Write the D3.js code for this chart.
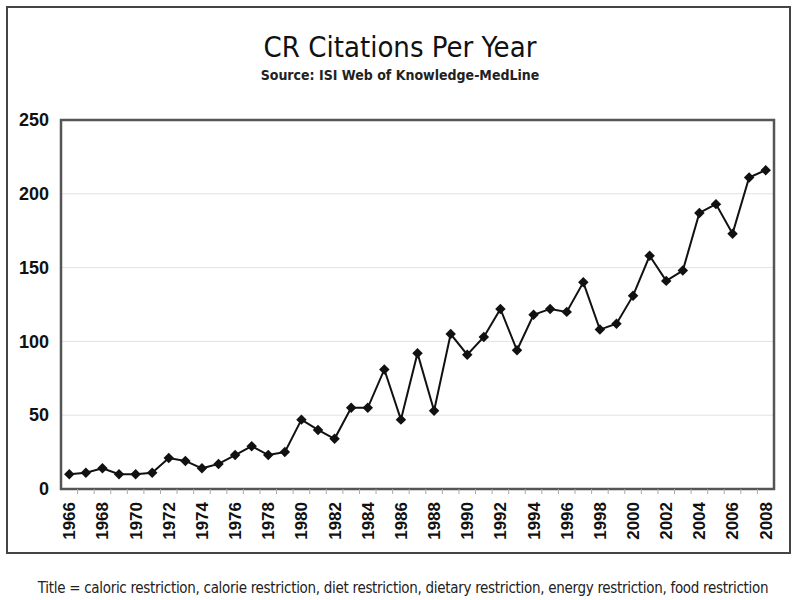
<!DOCTYPE html>
<html><head><meta charset="utf-8">
<script src="https://cdn.jsdelivr.net/npm/d3@7"></script>
<style>body{margin:0;background:#fff}svg{display:block}</style>
</head><body>
<svg id="c" width="800" height="600"></svg>
<script>
const years = d3.range(1966, 2009);
const citations = [10,11,14,10,10,11,21,19,14,17,23,29,23,25,47,40,34,55,55,81,47,92,53,105,91,103,122,94,118,122,120,140,108,112,131,158,141,148,187,193,173,211,216];
const yTicks = [0,50,100,150,200,250];
const titleText = "CR Citations Per Year";
const subtitleText = "Source: ISI Web of Knowledge-MedLine";
const footerText = "Title = caloric restriction, calorie restriction, diet restriction, dietary restriction, energy restriction, food restriction";

const svg = d3.select("#c");
const L = 61, R = 774, T = 120, B = 489;

svg.append("rect").attr("x",7).attr("y",7).attr("width",783).attr("height",546)
  .attr("fill","#fff").attr("stroke","#444").attr("stroke-width",2);

svg.append("text").attr("x",400).attr("y",57).attr("text-anchor","middle")
  .attr("font-family","'DejaVu Sans Condensed','Liberation Sans Narrow',sans-serif")
  .attr("font-size",29).attr("fill","#111").text(titleText);
svg.append("text").attr("x",400).attr("y",80).attr("text-anchor","middle")
  .attr("font-family","'DejaVu Sans Condensed','Liberation Sans Narrow',sans-serif")
  .attr("font-size",14).attr("font-weight",600).attr("fill","#222").text(subtitleText);
svg.append("text").attr("x",403).attr("y",593).attr("text-anchor","middle")
  .attr("font-family","'Liberation Sans Narrow','DejaVu Sans Condensed',sans-serif")
  .attr("font-size",15).attr("fill","#222").attr("letter-spacing","-0.3").text(footerText);

const x = d3.scaleBand().domain(years).range([L,R]);
const y = d3.scaleLinear().domain([0,250]).range([B,T]);

// gridlines
svg.append("g").selectAll("line").data(yTicks.filter(v=>v>0&&v<250)).join("line")
  .attr("x1",L).attr("x2",R).attr("y1",d=>y(d)).attr("y2",d=>y(d))
  .attr("stroke","#e2e2e2").attr("stroke-width",1);

// plot frame
svg.append("rect").attr("x",L).attr("y",T).attr("width",R-L).attr("height",B-T)
  .attr("fill","none").attr("stroke","#555").attr("stroke-width",2.5);

// y axis
const ya = svg.append("g").attr("transform",`translate(${L},0)`)
  .call(d3.axisLeft(y).tickValues(yTicks).tickSize(0).tickPadding(12));
ya.select(".domain").remove();
ya.selectAll("text").attr("font-family","'Liberation Sans',Arial,sans-serif")
  .attr("font-weight","bold").attr("font-size",18).attr("fill","#111");

// x minor ticks at band boundaries
svg.append("g").selectAll("line").data(years.slice(1)).join("line")
  .attr("x1",d=>x(d)).attr("x2",d=>x(d)).attr("y1",B).attr("y2",B+5)
  .attr("stroke","#aaa").attr("stroke-width",1);

// x axis labels
const xa = svg.append("g").attr("transform",`translate(0,${B})`)
  .call(d3.axisBottom(x).tickValues(years.filter(v=>(v-1966)%2===0)).tickSize(0));
xa.select(".domain").remove();
xa.selectAll("text").attr("font-family","'Liberation Sans',Arial,sans-serif")
  .attr("font-weight","bold").attr("font-size",17).attr("fill","#111")
  .attr("transform","rotate(-90)").attr("text-anchor","end")
  .attr("x",-13).attr("y",0).attr("dy","0.35em");

const cx = d => x(d)+x.bandwidth()/2;
const line = d3.line().x((d,i)=>cx(years[i])).y(d=>y(d));
svg.append("path").datum(citations).attr("d",line)
  .attr("fill","none").attr("stroke","#111").attr("stroke-width",2);

svg.append("g").selectAll("path").data(citations).join("path")
  .attr("d",d3.symbol().type(d3.symbolDiamond2).size(70))
  .attr("transform",(d,i)=>`translate(${cx(years[i])},${y(d)})`)
  .attr("fill","#111");
</script>
</body></html>
